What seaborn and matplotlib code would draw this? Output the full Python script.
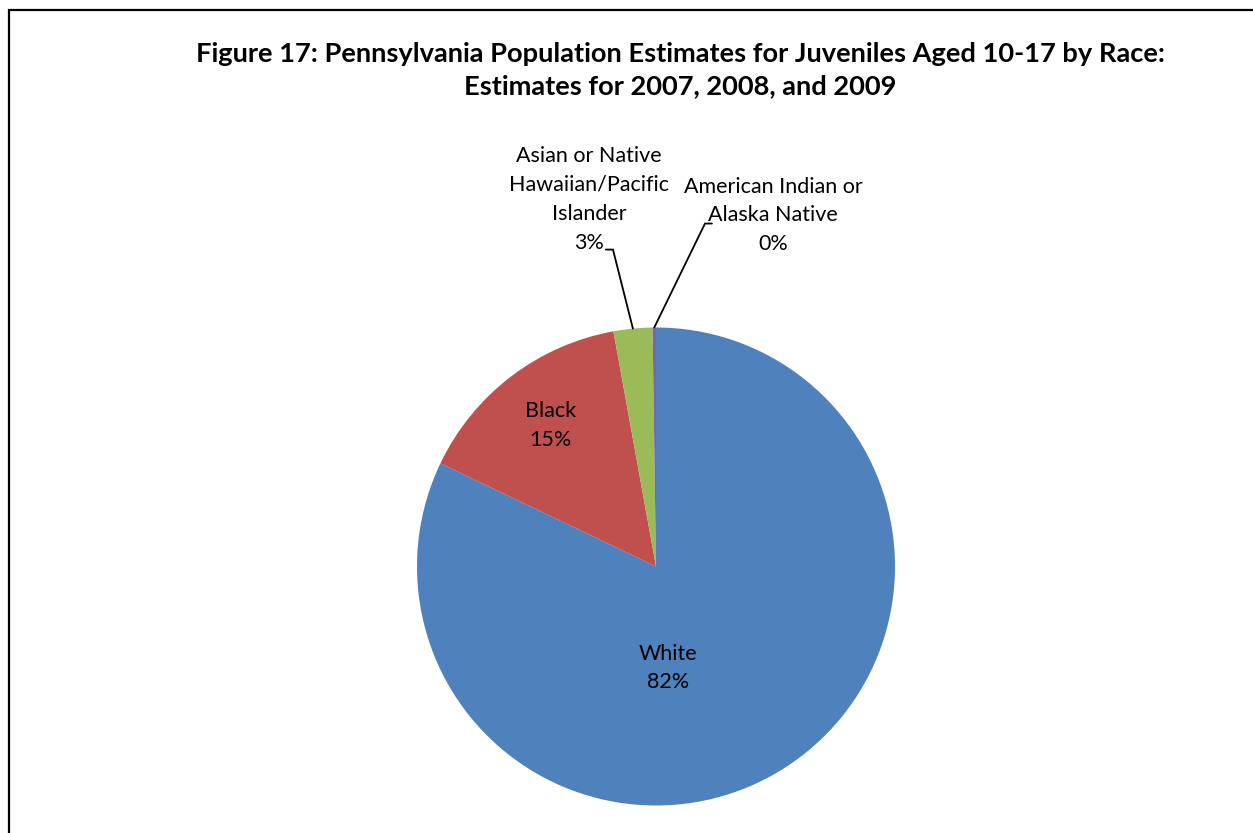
import numpy as np
import matplotlib
matplotlib.use("Agg")
import matplotlib.pyplot as plt
from matplotlib.patches import Rectangle
import seaborn as sns

# Share of Pennsylvania juveniles aged 10-17 by race (percent)
categories = ["White", "Black", "Asian or Native\nHawaiian/Pacific\nIslander",
              "American Indian or\nAlaska Native"]
shares = [82.1, 15.05, 2.62, 0.23]
pct_labels = ["82%", "15%", "3%", "0%"]
colors = ["#4F81BD", "#C0504D", "#9BBB59", "#8064A2"]

sns.set_theme(style="white")
plt.rcParams["font.family"] = ["Lato", "DejaVu Sans"]

W, H = 1253, 833
fig = plt.figure(figsize=(W / 100, H / 100), dpi=100)

# chart frame (runs off the right and bottom edges)
fig.patches.append(Rectangle((8.5 / W, -0.2), 1.5, 1 - 9.5 / H + 0.2,
                             transform=fig.transFigure, fill=False,
                             edgecolor="black", linewidth=1.6))

cx, cy, r = 656, 566.5, 239
ax = fig.add_axes([(cx - r) / W, (H - cy - r) / H, 2 * r / W, 2 * r / H])
wedges, _ = ax.pie(shares, colors=colors, startangle=90, counterclock=False,
                   radius=1, wedgeprops=dict(linewidth=0))
ax.set_xlim(-1, 1)
ax.set_ylim(-1, 1)
ax.set_aspect("equal")
ax.axis("off")

fs = 15.5
ls = 1.55
# inside labels
ax.text(0.05, -0.425, f"{categories[0]}\n{pct_labels[0]}", ha="center", va="center",
        fontsize=fs, linespacing=ls, color="black")
ax.text(-0.44, 0.59, f"{categories[1]}\n{pct_labels[1]}", ha="center", va="center",
        fontsize=fs, linespacing=ls, color="black")

# outside labels with leader lines
ax.text(-0.28, 1.536, f"{categories[2]}\n{pct_labels[2]}", ha="center", va="center",
        fontsize=fs, linespacing=ls, color="black", clip_on=False)
ax.text(0.49, 1.469, f"{categories[3]}\n{pct_labels[3]}", ha="center", va="center",
        fontsize=fs, linespacing=ls, color="black", clip_on=False)


def wedge_mid(w):
    a = np.deg2rad((w.theta1 + w.theta2) / 2)
    return np.cos(a), np.sin(a)


mx, my = wedge_mid(wedges[2])
ax.plot([-0.21, -0.180, mx], [1.326, 1.326, my], color="black", lw=1.3,
        clip_on=False, solid_joinstyle="miter")
mx, my = wedge_mid(wedges[3])
ax.plot([0.234, 0.205, mx], [1.435, 1.435, my], color="black", lw=1.3,
        clip_on=False, solid_joinstyle="miter")

fig.text(680 / W, 1 - 70 / H,
         "Figure 17: Pennsylvania Population Estimates for Juveniles Aged 10-17 by Race:\n"
         "Estimates for 2007, 2008, and 2009",
         ha="center", va="center", fontsize=19.6, fontweight="bold",
         linespacing=1.42, color="black")

fig.savefig("out.png", dpi=100, facecolor="white")
